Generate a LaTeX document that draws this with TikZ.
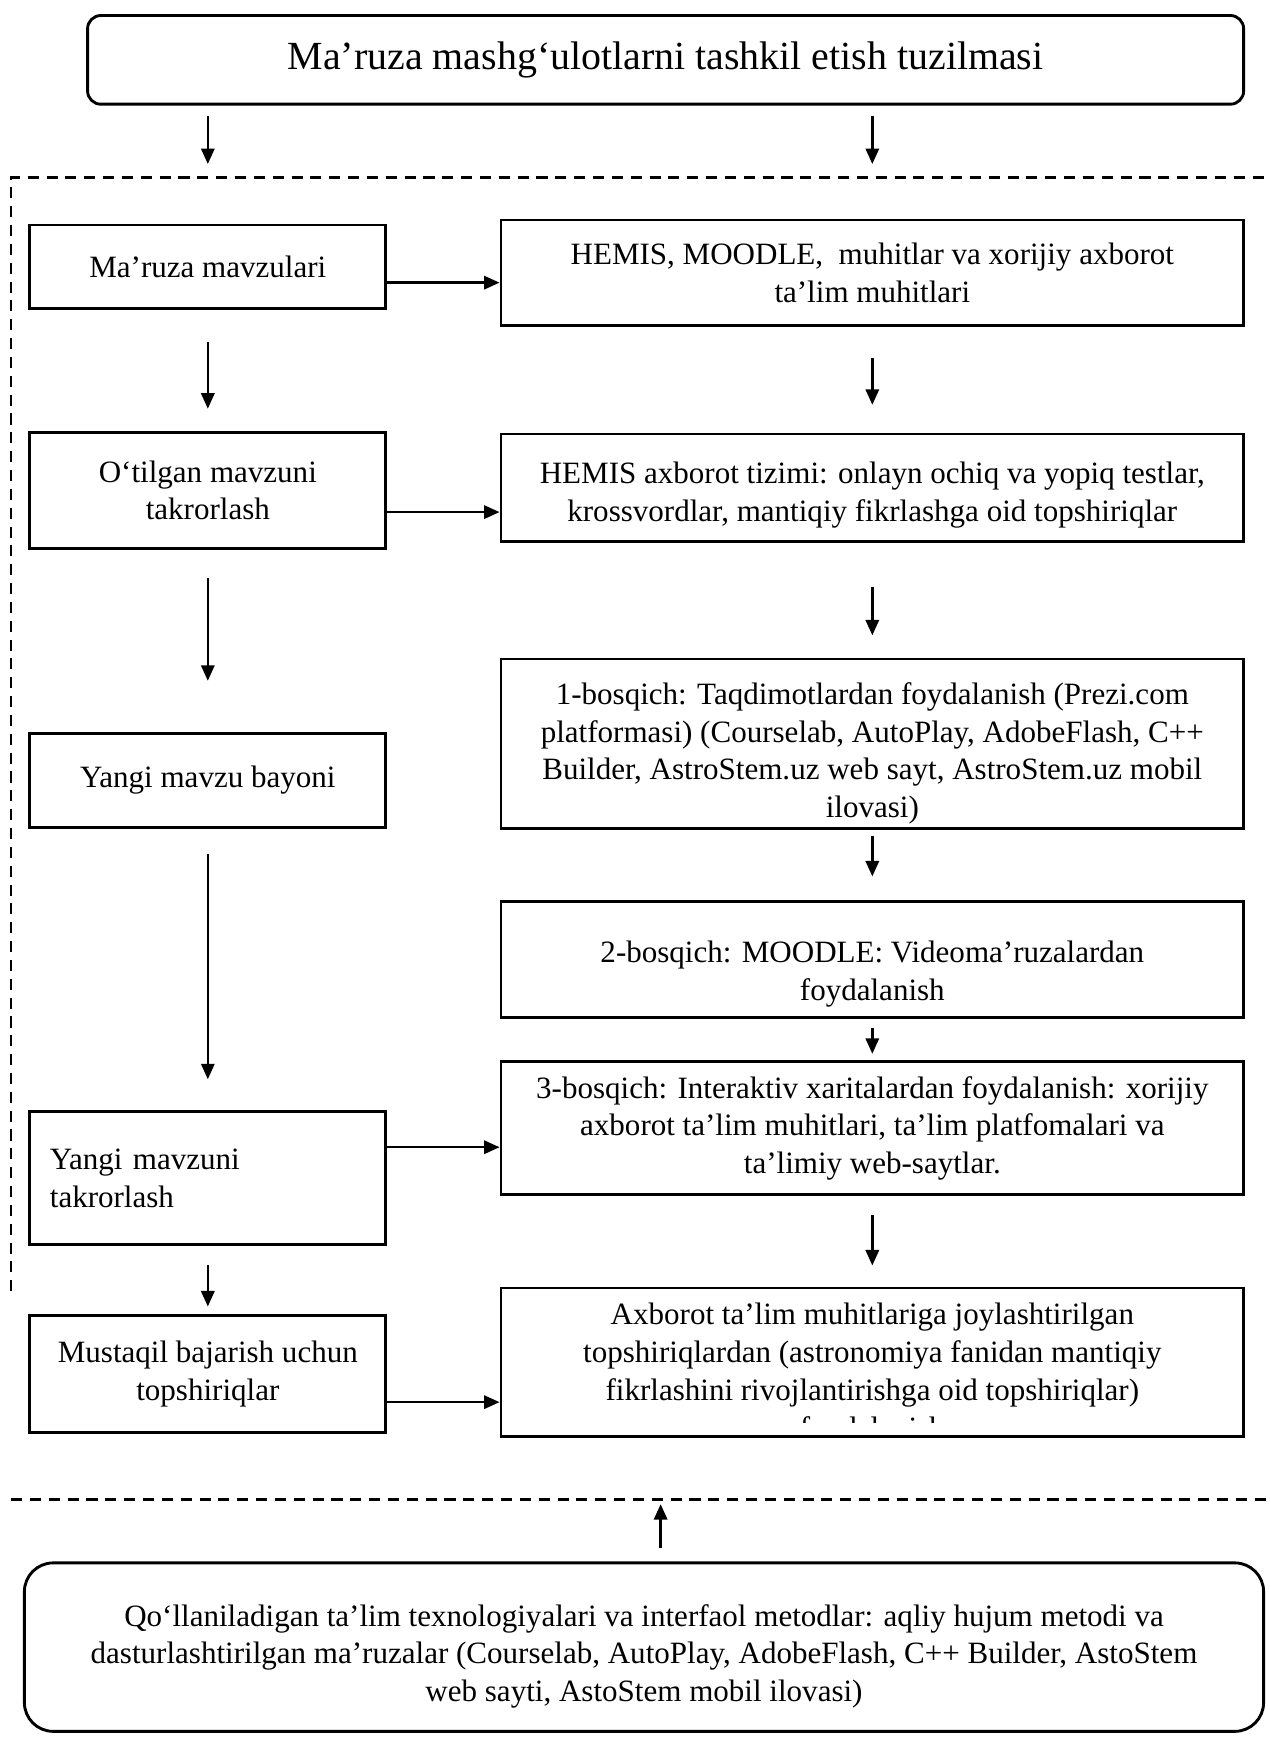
\documentclass[tikz,border=0pt]{standalone}
\usepackage{fontspec}
\setmainfont{Liberation Serif}
\usetikzlibrary{arrows.meta,calc}

\begin{document}
\begin{tikzpicture}[
  x=1pt, y=-1pt,
  font=\fontsize{28}{34}\selectfont,
  >={Triangle[length=14pt,width=12pt]},
  box/.style={draw, line width=2.6pt, align=center, inner sep=4pt},
  lbox/.style={box, minimum width=321pt},
  rbox/.style={box, minimum width=670pt},
  head/.style={box, rounded corners=12pt, minimum width=1043pt, minimum height=80pt, font=\fontsize{36}{42}\selectfont},
  foot/.style={box, rounded corners=26pt, minimum width=1118pt, minimum height=152pt},
  arr/.style={->, line width=2.2pt},
  frameline/.style={line width=2.4pt, dash pattern=on 10pt off 7pt}
]
\useasboundingbox (0,0) rectangle (1145,1568);

% header and frame
\node[head] (title) at (600.5,54) {Ma’ruza mashg‘ulotlarni tashkil etish tuzilmasi};
\coordinate (ftop) at (10,160);
\coordinate (fbot) at (10,1353);
\draw[frameline] (10,1165) -- (ftop) -- (1145,160);
\draw[frameline] (fbot) -- (1145,1353);

% left column
\node[lbox, minimum height=75pt] (l1) at (187.5,240.5) {Ma’ruza mavzulari};
\node[lbox, minimum height=105pt] (l2) at (187.5,442.5) {O‘tilgan mavzuni\\takrorlash};
\node[lbox, minimum height=85pt] (l3) at (187.5,704) {Yangi mavzu bayoni};
\node[lbox, align=left, text width=285pt, inner xsep=18pt, minimum height=120pt] (l4) at (187.5,1063) {Yangi mavzuni\\takrorlash};
\node[lbox, minimum height=105pt] (l5) at (187.5,1239.5) {Mustaqil bajarish uchun\\topshiriqlar};

% right column
\node[rbox, minimum height=95pt] (r1) at (787,246) {HEMIS, MOODLE, \ muhitlar va xorijiy axborot\\ta’lim muhitlari};
\node[rbox, minimum height=97pt] (r2) at (787,440) {\rule{0pt}{33pt}HEMIS axborot tizimi: onlayn ochiq va yopiq testlar,\\krossvordlar, mantiqiy fikrlashga oid topshiriqlar};
\node[rbox, minimum height=148pt] (r3) at (787,671) {\rule{0pt}{37pt}1-bosqich: Taqdimotlardan foydalanish (Prezi.com\\platformasi) (Courselab, AutoPlay, AdobeFlash, C++\\Builder, AstroStem.uz web sayt, AstroStem.uz mobil\\ilovasi)};
\node[rbox, minimum height=105pt] (r4) at (787,865.5) {\rule{0pt}{46pt}2-bosqich: MOODLE: Videoma’ruzalardan\\foydalanish};
\node[rbox, minimum height=120pt] (r5) at (787,1018) {3-bosqich: Interaktiv xaritalardan foydalanish: xorijiy\\axborot ta’lim muhitlari, ta’lim platfomalari va\\ta’limiy web-saytlar.};
\node[rbox, minimum height=134pt] (r6) at (787,1229) {};
\begin{scope}
  \clip ([xshift=2pt,yshift=14pt]r6.south west) rectangle ([xshift=-2pt,yshift=-2pt]r6.north east);
  \node[align=center, inner sep=0pt, anchor=north] (r6txt) at ([yshift=-15pt]r6.north) {Axborot ta’lim muhitlariga joylashtirilgan\\topshiriqlardan (astronomiya fanidan mantiqiy\\fikrlashini rivojlantirishga oid topshiriqlar)\\foydalanish};
\end{scope}

% footer
\node[foot] (tech) at (581,1486) {\rule{0pt}{36pt}Qo‘llaniladigan ta’lim texnologiyalari va interfaol metodlar: aqliy hujum metodi va\\dasturlashtirilgan ma’ruzalar (Courselab, AutoPlay, AdobeFlash, C++ Builder, AstoStem\\web sayti, AstoStem mobil ilovasi)};

% arrows
\draw[arr, shorten <=9pt, shorten >=12pt] (title.south -| l1.north) -- (l1.north |- ftop);
\draw[arr, shorten <=9pt, shorten >=12pt] (title.south -| r1.north) -- (r1.north |- ftop);
\draw[arr, shorten <=29pt, shorten >=20pt] (l1) -- (l2);
\draw[arr, shorten <=25pt, shorten >=46pt] (l2) -- (l3);
\draw[arr, shorten <=23pt, shorten >=28pt] (l3) -- (l4);
\draw[arr, shorten <=17pt, shorten >=7pt] (l4) -- (l5);
\draw[arr, shorten <=28pt, shorten >=25pt] (r1) -- (r2);
\draw[arr, shorten <=40pt, shorten >=20pt] (r2) -- (r3);
\draw[arr, shorten <=5pt, shorten >=21pt] (r3) -- (r4);
\draw[arr, shorten <=8pt, shorten >=6pt] (r4) -- (r5);
\draw[arr, shorten <=17pt, shorten >=19pt] (r5) -- (r6);
\draw[arr] ([yshift=-14.5pt]l1.east) -- ([yshift=-14.5pt]l1.east -| r1.west);
\draw[arr] ([yshift=-19.5pt]l2.east) -- ([yshift=-19.5pt]l2.east -| r2.west);
\draw[arr] ([yshift=28pt]l4.east) -- ([yshift=28pt]l4.east -| r5.west);
\draw[arr] ([yshift=-25.5pt]l5.east) -- ([yshift=-25.5pt]l5.east -| r6.west);
\draw[arr, shorten <=12pt, shorten >=4pt] ([xshift=15pt]tech.north) -- ([xshift=15pt]tech.north |- fbot);
\end{tikzpicture}
\end{document}
